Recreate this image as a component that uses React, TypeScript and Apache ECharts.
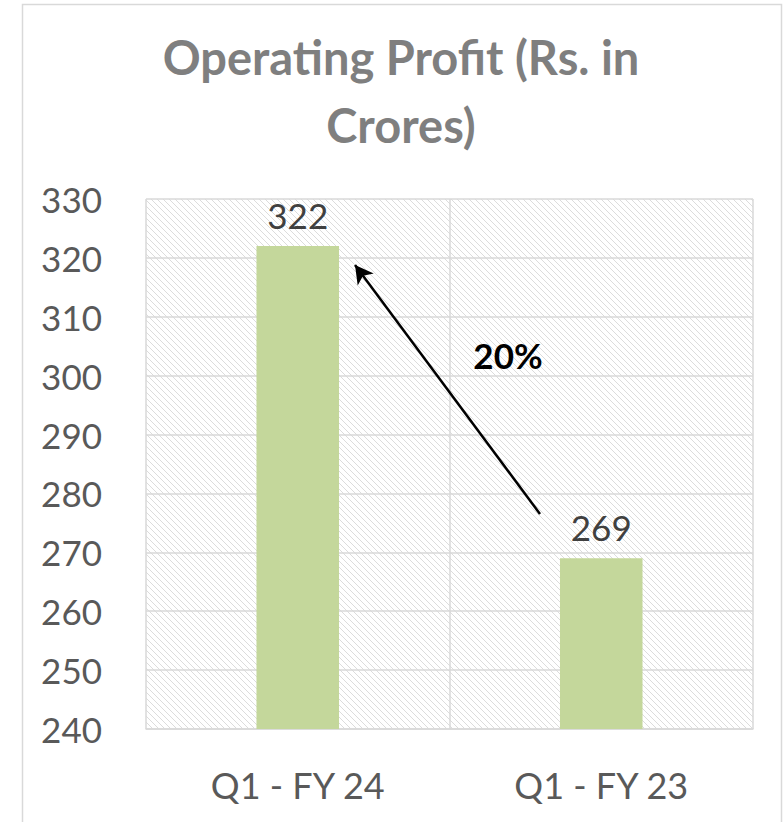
import React, { useEffect, useRef } from "react";
import * as echarts from "echarts";

const categories = ["Q1 - FY 24", "Q1 - FY 23"];
const values = [322, 269];
const titleLines = ["Operating Profit (Rs. in", "Crores)"];
const growthLabel = "20%";
const yMin = 240;
const yMax = 330;
const yStep = 10;

const FONT = "Lato, 'Open Sans', sans-serif";

function makeHatch() {
  const s = 6;
  const c = document.createElement("canvas");
  c.width = s;
  c.height = s;
  const ctx = c.getContext("2d")!;
  ctx.fillStyle = "#ffffff";
  ctx.fillRect(0, 0, s, s);
  ctx.strokeStyle = "#dcdcdc";
  ctx.lineWidth = 1;
  ctx.beginPath();
  ctx.moveTo(-1, -1);
  ctx.lineTo(s + 1, s + 1);
  ctx.moveTo(-1, s - 1);
  ctx.lineTo(1, s + 1);
  ctx.moveTo(s - 1, -1);
  ctx.lineTo(s + 1, 1);
  ctx.stroke();
  return c;
}

export default function App() {
  const ref = useRef<HTMLDivElement>(null);
  useEffect(() => {
    if (!ref.current) return;
    const chart = echarts.init(ref.current, undefined, { renderer: "svg" });
    const hatch = makeHatch();
    chart.setOption({
      animation: false,
      backgroundColor: "#ffffff",
      grid: {
        left: 146,
        right: 30,
        top: 199,
        bottom: 93,
        show: true,
        borderWidth: 0,
        backgroundColor: { image: hatch, repeat: "repeat" },
      },
      graphic: [
        {
          type: "rect",
          shape: { x: 22.5, y: 4.5, width: 759, height: 840 },
          style: { fill: "none", stroke: "#d9d9d9", lineWidth: 1.5 },
          silent: true,
        },
        {
          type: "text",
          x: 401,
          y: 57,
          style: {
            text: titleLines[0],
            font: `bold 47px ${FONT}`,
            fill: "#7f7f7f",
            textAlign: "center",
            textVerticalAlign: "middle",
          },
        },
        {
          type: "text",
          x: 401,
          y: 125,
          style: {
            text: titleLines[1],
            font: `bold 47px ${FONT}`,
            fill: "#7f7f7f",
            textAlign: "center",
            textVerticalAlign: "middle",
          },
        },
        {
          type: "text",
          x: 508,
          y: 355,
          style: {
            text: growthLabel,
            font: `bold 35px ${FONT}`,
            fill: "#000000",
            textAlign: "center",
            textVerticalAlign: "middle",
          },
        },
      ],
      xAxis: {
        type: "category",
        data: categories,
        axisLine: { show: true, lineStyle: { color: "#d9d9d9", width: 1.5 } },
        axisTick: { show: false },
        splitLine: { show: true, lineStyle: { color: "#d9d9d9", width: 1.5 } },
        axisLabel: {
          color: "#595959",
          fontSize: 36,
          fontFamily: FONT,
          margin: 38,
        },
      },
      yAxis: {
        type: "value",
        min: yMin,
        max: yMax,
        interval: yStep,
        axisLine: { show: false },
        axisTick: { show: false },
        splitLine: { show: true, lineStyle: { color: "#d9d9d9", width: 1.5 } },
        axisLabel: {
          color: "#595959",
          fontSize: 35,
          fontFamily: FONT,
          margin: 44,
        },
      },
      series: [
        {
          type: "bar",
          data: values,
          barWidth: "27.2%",
          itemStyle: { color: "#c4d79b" },
          label: {
            show: true,
            position: "top",
            distance: 14,
            color: "#404040",
            fontSize: 35,
            fontFamily: FONT,
          },
          markLine: {
            silent: true,
            symbol: ["none", "arrow"],
            symbolSize: [15, 18],
            label: { show: false },
            lineStyle: { color: "#000000", width: 2.5, type: "solid" },
            data: [[{ x: 540, y: 514 }, { x: 355, y: 265 }]],
          },
        },
      ],
    });
    return () => chart.dispose();
  }, []);
  return (
    <div
      ref={ref}
      style={{ position: "fixed", left: 0, top: 0, width: 783, height: 822 }}
    />
  );
}
